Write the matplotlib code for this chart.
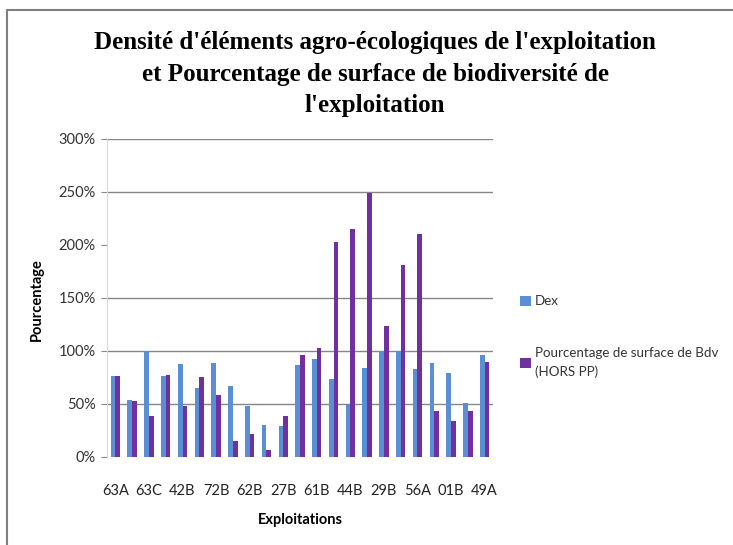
import matplotlib.pyplot as plt
import numpy as np
from matplotlib.ticker import PercentFormatter
from matplotlib.lines import Line2D

# Data (labels hidden by Excel between the shown ones are left empty)
exploitations = ["63A", "", "63C", "", "42B", "", "72B", "", "62B", "", "27B", "",
                 "61B", "", "44B", "", "29B", "", "56A", "", "01B", "", "49A"]
dex = [76.5, 53.7, 100, 76.5, 87.8, 65.1, 88.8, 67.0, 48.0, 30.0, 29.1, 86.9,
       92.6, 73.6, 49.6, 84.0, 100, 100, 83.1, 88.8, 79.3, 50.9, 96.4]
surface_bdv = [76.5, 52.8, 38.5, 77.4, 48.0, 75.5, 58.5, 14.8, 21.5, 6.3, 38.5, 96.4,
               103, 202.5, 214.8, 249, 122.9, 180.7, 210.1, 43.3, 33.8, 43.3, 89.7]
y_ticks = [0, 50, 100, 150, 200, 250, 300]
grid_levels = [50, 100, 150, 250, 300]

title = ("Densité d'éléments agro-écologiques de l'exploitation\n"
         "et Pourcentage de surface de biodiversité de\n"
         "l'exploitation")

plt.rcParams['font.family'] = ['Lato', 'DejaVu Sans']

fig = plt.figure(figsize=(7.33, 5.45), dpi=100)
ax = fig.add_axes([107 / 733, 1 - 456.7 / 545, 386 / 733, 318 / 545])

x = np.arange(len(exploitations))
w = 0.28
ax.bar(x - w / 2, dex, w, color='#5A8FD5', label='Dex', zorder=3)
ax.bar(x + w / 2, surface_bdv, w, color='#7030A0',
       label='Pourcentage de surface de Bdv\n(HORS PP)', zorder=3)

ax.set_xlim(-0.5, len(exploitations) - 0.5)
ax.set_ylim(0, 300)
ax.set_yticks(y_ticks)
ax.yaxis.set_major_formatter(PercentFormatter(decimals=0))
ax.set_xticks(x)
ax.set_xticklabels(exploitations)
ax.tick_params(axis='x', length=0, pad=20, labelsize=10.5, labelcolor='#222222')
ax.tick_params(axis='y', length=4, color='#888888', pad=4, labelsize=10.5,
               labelcolor='#333333')

for lvl in grid_levels:
    ax.axhline(lvl, color='#868686', lw=1, zorder=1)

for side in ['top', 'right', 'bottom']:
    ax.spines[side].set_visible(False)
ax.spines['left'].set_color('#d9d9d9')

fig.text(375 / 733, 1 - 74 / 545, title, ha='center', va='center',
         family='Liberation Serif', weight='bold', fontsize=18, linespacing=1.45)
fig.text(37 / 733, 1 - 300 / 545, 'Pourcentage', rotation=90, ha='center',
         va='center', weight='bold', fontsize=10.5)
fig.text(300 / 733, 1 - 520 / 545, 'Exploitations', ha='center', va='center',
         weight='bold', fontsize=10.5)

leg = ax.legend(loc='upper left', bbox_to_anchor=(515 / 733, 1 - 290 / 545),
                bbox_transform=fig.transFigure, frameon=False, fontsize=9.6,
                handlelength=0.8, handleheight=0.8, handletextpad=0.3,
                labelspacing=3.0, borderaxespad=0)
for t in leg.get_texts():
    t.set_color('#333333')
    t.set_linespacing(1.6)

# outer chart border (top and left only visible)
fig.add_artist(Line2D([7 / 733, 7 / 733, 1], [0, 1 - 10 / 545, 1 - 10 / 545],
                      transform=fig.transFigure, color='#808080', lw=1.5))

fig.savefig('out.png', dpi=100)
